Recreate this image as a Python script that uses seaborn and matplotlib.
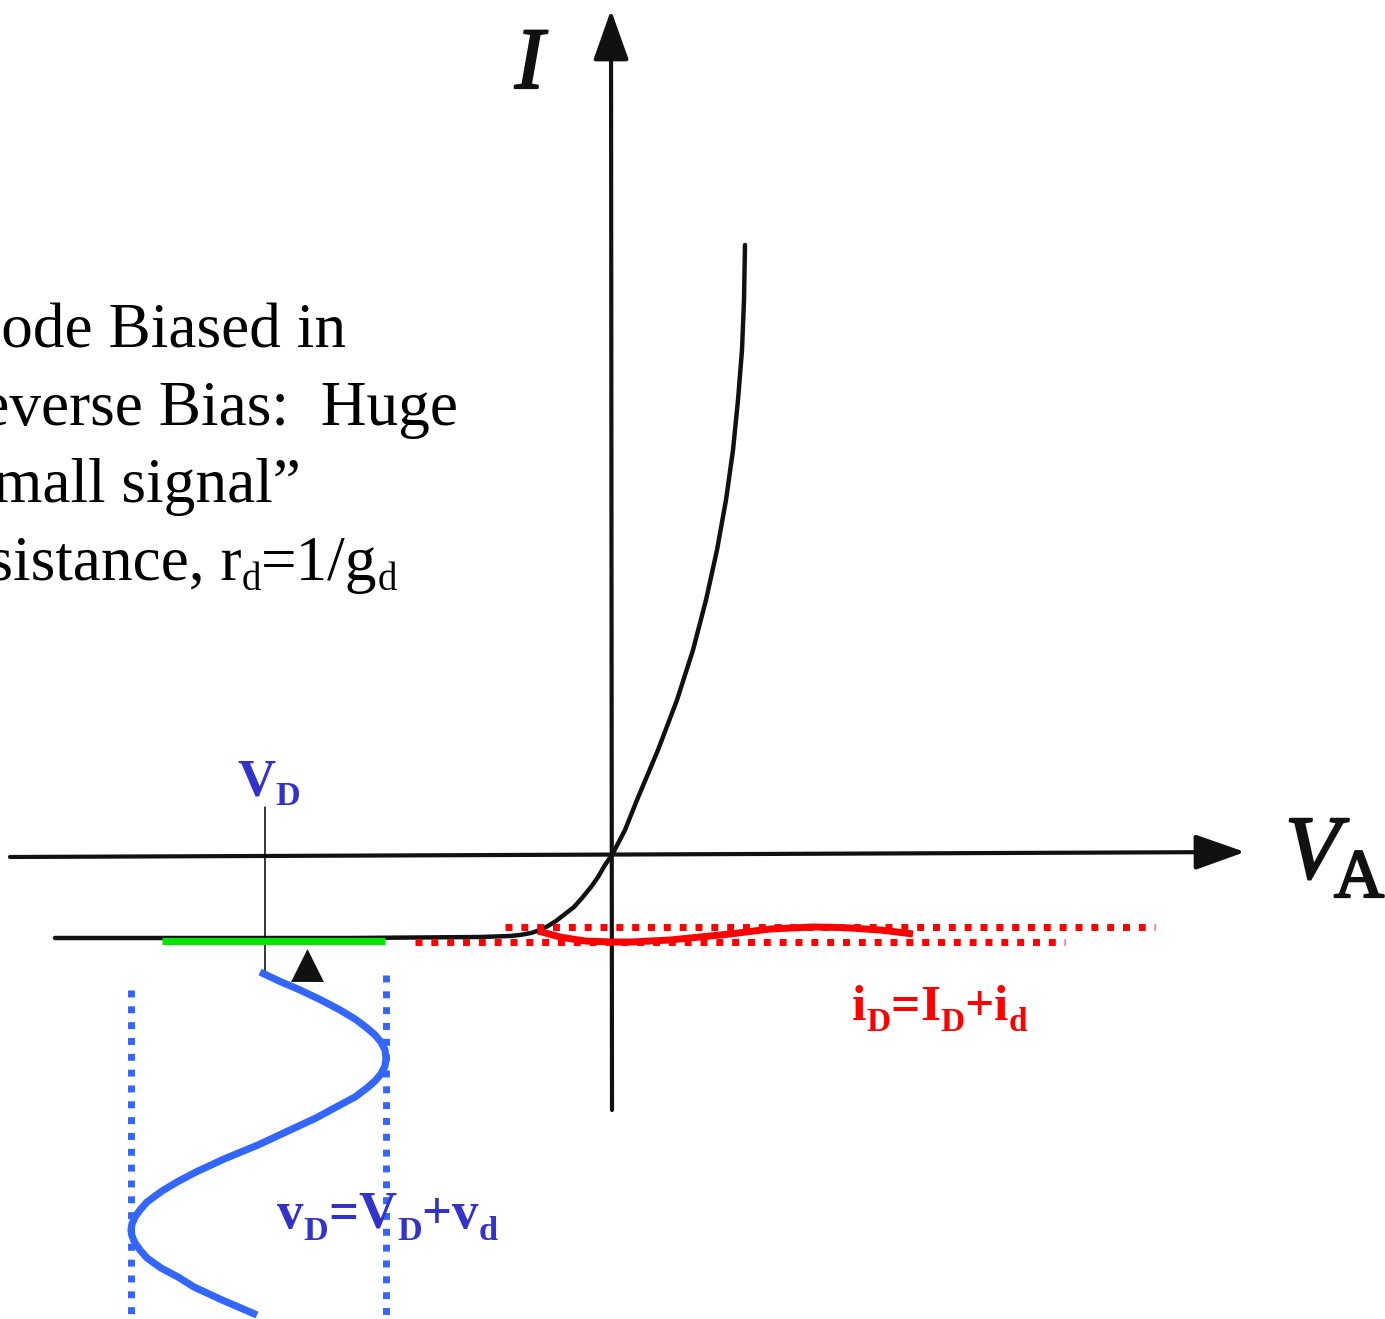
import numpy as np
import pandas as pd
import seaborn as sns
import matplotlib
matplotlib.use("Agg")
import matplotlib.pyplot as plt
from matplotlib.patches import FancyArrowPatch, ArrowStyle
from matplotlib.transforms import ScaledTranslation
import matplotlib.patheffects as pe

# ---------------------------------------------------------------
# Diode I-V characteristic, origin at the crossing of the axes
# (horizontal: applied voltage V_A, vertical: current I)
# ---------------------------------------------------------------
diode_v = [-557, -412, -262, -132, -102, -92, -81, -72, -64, -56, -47, -38,
           -30, -21, -14, -7, 0, 13, 25, 46, 65, 81, 94, 105, 114, 121, 126,
           130, 132, 133]
diode_i = [-83, -83, -83, -82, -81, -80, -78, -75, -71, -66, -59, -52,
           -43, -32, -22, -10, 0, 25, 55, 105, 155, 205, 255, 305, 355, 405,
           455, 505, 555, 610]

# Reverse-bias operating point and its swing
bias_v = -347
bias_range_v = [-450, -227]
bias_level_i = -85.5

# Small-signal voltage v_d (drawn downward in time below the V axis)
sig_v = [-352, -333, -312, -291, -272, -257, -245, -237, -231, -227, -226,
         -227, -231, -237, -245, -257, -272, -296, -324, -354, -388, -416,
         -435, -450, -465, -472, -477, -480, -481, -480, -477, -472, -465,
         -451, -434, -418, -390, -355]
sig_t = [-117, -126, -135, -145, -155, -164, -173, -180, -187, -195, -203,
         -211, -219, -226, -233, -242, -250, -263, -276, -290, -304, -317,
         -327, -336, -347, -355, -362, -369, -375, -381, -388, -395, -403,
         -413, -422, -432, -445, -460]
sig_v_limits = [-481, -226]

# Resulting small-signal current i_d along the I axis
cur_v = [-74, -63, -52, -40, -27, -13, 1, 20, 38, 58, 78, 98, 118, 138, 158,
         180, 201, 220, 238, 253, 268, 285, 301]
cur_i = [-76, -79, -82, -84, -86, -86.5, -87, -87, -86, -85, -83, -81, -79,
         -76.5, -74, -73, -72, -72.3, -73, -74, -75, -77, -79]
cur_i_limits = [-72, -87]

# Text runs: (text, relative size, baseline drop in px)
note_lines = [
    [("Diode Biased in", 1, 0)],
    [("Reverse Bias:  Huge", 1, 0)],
    [("\u201cSmall signal\u201d", 1, 0)],
    [("Resistance, r", 1, 0), ("d", 0.62, 10), ("=1/g", 1, 0),
     ("d", 0.62, 10)],
]
label_vd = [("V", 1, 0), ("D", 0.65, 10)]
label_vsig = [("v", 1, 0), ("D", 0.65, 12), ("=", 1, 0), ("V", 1, 0),
              ("D", 0.65, 12), ("+", 1, 0), ("v", 1, 0), ("d", 0.65, 12)]
label_isig = [("i", 1, 0), ("D", 0.65, 11), ("=", 1, 0), ("I", 1, 0),
              ("D", 0.65, 11), ("+", 1, 0), ("i", 1, 0), ("d", 0.65, 11)]

# ---------------------------------------------------------------
sns.set_theme(style="white")
plt.rcParams["font.family"] = ["Liberation Serif", "DejaVu Serif"]

BLACK = "#111111"
RED = "#ff0000"
GREEN = "#00e600"
BLUE_LINE = "#3366ff"
BLUE_TEXT = "#3333cc"
DOTS = (0, (1, 1.28))

fig = plt.figure(figsize=(13.85, 13.19), dpi=100)
fig.patch.set_facecolor("white")
ax = fig.add_axes([0, 0, 1, 1])
ax.set_xlim(-612, 773)
ax.set_ylim(-464, 855)
ax.set_axis_off()
renderer = fig.canvas.get_renderer()


def draw_runs(x, y, runs, size, gap=0.0, **kw):
    """Write text pieces one after another, with sub-scripted parts."""
    offset = 0.0
    for text, scale, drop in runs:
        tr = ax.transData + ScaledTranslation(offset / fig.dpi,
                                              -drop / fig.dpi,
                                              fig.dpi_scale_trans)
        t = ax.text(x, y, text, transform=tr, fontsize=size * scale,
                    ha="left", va="baseline", **kw)
        offset += t.get_window_extent(renderer).width + gap


# Axes with arrowheads
head = ArrowStyle("-|>", head_length=31, head_width=11)
for tail, tip in [((-602, -2), (633, 3)), ((0, -255), (-1, 845))]:
    ax.add_patch(FancyArrowPatch(tail, tip, arrowstyle=head, mutation_scale=1,
                                 lw=3.0, color=BLACK, shrinkA=0, shrinkB=0,
                                 zorder=2))

# Diode characteristic
sns.lineplot(x=diode_v, y=diode_i, sort=False, estimator=None, color=BLACK,
             lw=3.2, ax=ax, zorder=3)

# Bias segment
sns.lineplot(x=bias_range_v, y=[bias_level_i, bias_level_i], sort=False,
             estimator=None, color=GREEN, lw=5.2, ax=ax, zorder=4,
             solid_capstyle="butt")

# Bias marker line and label
sns.lineplot(x=[bias_v, bias_v], y=[48, -117], sort=False, estimator=None,
             color="black", lw=1.1, ax=ax, zorder=3)
draw_runs(bias_v - 28, 60, label_vd, 38, gap=0.5, color=BLUE_TEXT,
          weight="bold")

# Black wedge under the bias line
ax.scatter([-305], [-110], marker="^", s=560, color=BLACK, zorder=3,
           linewidths=0)

# Current swing envelopes and waveform
sns.lineplot(x=[-107, 543], y=[cur_i_limits[0]] * 2, sort=False,
             estimator=None, color=RED, lw=5.0, linestyle=DOTS,
             dash_capstyle="butt", ax=ax, zorder=5)
sns.lineplot(x=[-197, 453], y=[cur_i_limits[1]] * 2, sort=False,
             estimator=None, color=RED, lw=5.0, linestyle=DOTS,
             dash_capstyle="butt", ax=ax, zorder=5)
sns.lineplot(x=cur_v, y=cur_i, sort=False, estimator=None, color=RED,
             lw=5.0, ax=ax, zorder=6, solid_capstyle="butt")

# Voltage swing waveform and envelopes
sns.lineplot(x=sig_v, y=sig_t, sort=False, estimator=None, color=BLUE_LINE,
             lw=5.2, ax=ax, zorder=5, solid_capstyle="butt")
sns.lineplot(x=[sig_v_limits[0]] * 2, y=[-135, -464], sort=False,
             estimator=None, color=BLUE_LINE, lw=5.0, linestyle=DOTS,
             dash_capstyle="butt", ax=ax, zorder=6)
sns.lineplot(x=[sig_v_limits[1]] * 2, y=[-120, -464], sort=False,
             estimator=None, color=BLUE_LINE, lw=5.0, linestyle=DOTS,
             dash_capstyle="butt", ax=ax, zorder=6)

# Signal labels
draw_runs(-335, -373, label_vsig, 38, gap=0.2, color=BLUE_TEXT,
          weight="bold", zorder=7)
draw_runs(240, -165, label_isig, 37, gap=0.2, color=RED, weight="bold",
          zorder=7)

# Axis names
heavy = [pe.withStroke(linewidth=1.6, foreground=BLACK)]
ax.text(-97, 767, "I", fontsize=63, style="italic", color=BLACK,
        ha="left", va="baseline", path_effects=heavy)
ax.text(673, -23, "V", fontsize=65, style="italic", color=BLACK,
        ha="left", va="baseline", path_effects=heavy)
ax.text(722, -42, "A", fontsize=50, color=BLACK, ha="left", va="baseline",
        path_effects=heavy)

# Explanatory note
note_x = [-674, -673, -682, -694]
note_base = [507, 430, 353, 275]
for runs, x0, base in zip(note_lines, note_x, note_base):
    draw_runs(x0, base, runs, 45.5, color="black")

fig.savefig("out.png", dpi=100, facecolor="white")
